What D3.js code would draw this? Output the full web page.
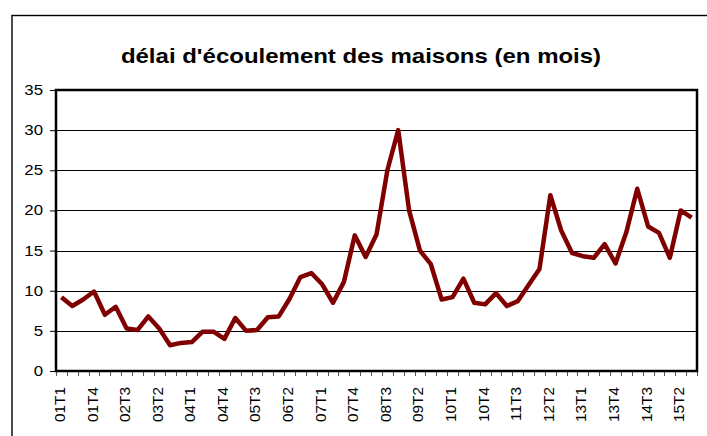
<!DOCTYPE html>
<html><head><meta charset="utf-8">
<script src="https://cdn.jsdelivr.net/npm/d3@7"></script>
<style>body{margin:0;background:#fff}svg{display:block}</style>
</head><body>
<svg id="c" width="707" height="436"></svg>
<script>
const title = "délai d'écoulement des maisons (en mois)";
const categories = [];
for (let y = 1; y <= 15; y++) for (let q = 1; q <= 4; q++) {
  if (y === 15 && q > 3) break;
  categories.push(String(y).padStart(2, "0") + "T" + q);
}
const values = [9.2,8.1,8.9,9.9,7.0,8.0,5.3,5.1,6.8,5.3,3.2,3.5,3.6,4.9,4.9,4.0,6.6,
  5.0,5.1,6.7,6.8,9.0,11.7,12.2,10.8,8.5,11.1,16.9,14.2,17.0,25.0,30.0,20.0,15.0,13.3,8.9,9.2,
  11.5,8.5,8.3,9.7,8.1,8.7,10.7,12.7,21.9,17.5,14.7,14.3,14.1,15.8,13.4,17.3,22.7,18.0,17.2,14.1,20.0,19.1];
const yTicks = [0,5,10,15,20,25,30,35];

const FONT = "Liberation Sans, Arial, sans-serif";
const SX = 1.2;
const svg = d3.select("#c");
const L = 56, T = 90, R = 697, B = 371;
// outer frame
svg.append("rect").attr("x",12).attr("y",15.5).attr("width",720).attr("height",440)
  .attr("fill","none").attr("stroke","#000").attr("stroke-width",1.4);

const x = d3.scaleBand().domain(categories).range([L,R]).padding(0);
const y = d3.scaleLinear().domain([0,35]).range([B,T]);

// gridlines
svg.append("g").selectAll("line").data(yTicks.slice(1)).join("line")
  .attr("x1",L).attr("x2",R).attr("y1",d=>Math.round(y(d))+0.5).attr("y2",d=>Math.round(y(d))+0.5)
  .attr("stroke","#000").attr("stroke-width",1);

// y axis
const yAxis = d3.axisLeft(y).tickValues(yTicks).tickSize(6).tickFormat(()=>"");
const gy = svg.append("g").attr("transform",`translate(${L},0)`).call(yAxis);
gy.select(".domain").remove();
gy.selectAll("line").attr("stroke","#000");
svg.append("g").selectAll("text").data(yTicks).join("text")
  .attr("transform",d=>`translate(43,${y(d)+5}) scale(${SX},1)`)
  .attr("text-anchor","end").attr("font-family",FONT).attr("font-size",14).attr("fill","#000")
  .text(d=>d);

// x axis ticks at category boundaries
const bounds = categories.map(c=>x(c)).concat([R]);
svg.append("g").selectAll("line").data(bounds).join("line")
  .attr("x1",d=>Math.round(d)+0.5).attr("x2",d=>Math.round(d)+0.5).attr("y1",B).attr("y2",B+5)
  .attr("stroke","#555").attr("stroke-width",1);

// x labels every 3rd category
svg.append("g").selectAll("text").data(categories.filter((c,i)=>i%3===0)).join("text")
  .attr("transform",d=>`translate(${x(d)+x.bandwidth()/2+3.5},387) rotate(-90) scale(1.1,1)`)
  .attr("text-anchor","end")
  .attr("font-family",FONT).attr("font-size",14).attr("fill","#000")
  .text(d=>d);

// plot frame
svg.append("rect").attr("x",L).attr("y",T).attr("width",R-L).attr("height",B-T)
  .attr("fill","none").attr("stroke","#000").attr("stroke-width",2.5);

// line
const line = d3.line().x((d,i)=>x(categories[i])+x.bandwidth()/2).y(d=>y(d));
svg.append("path").datum(values).attr("d",line).attr("fill","none")
  .attr("stroke","#800000").attr("stroke-width",4.5).attr("stroke-linejoin","round");

// title
svg.append("text").attr("transform",`translate(361,63) scale(${SX},1)`).attr("text-anchor","middle")
  .attr("font-family",FONT).attr("font-weight","bold").attr("font-size",20)
  .attr("fill","#000").text(title);
</script>
</body></html>
